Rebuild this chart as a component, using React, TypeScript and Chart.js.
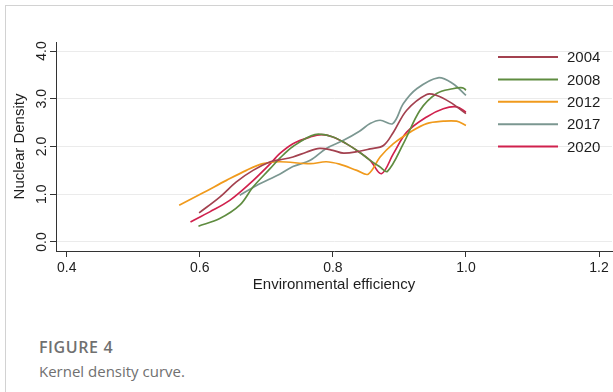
import React, { useEffect, useRef } from "react";
import { Chart, registerables } from "chart.js";

Chart.register(...registerables);

// ---- data ----
const seriesLabels = ["2004", "2008", "2012", "2017", "2020"];
const seriesColors = ["#a3414f", "#5f8c40", "#f09a1c", "#7b9791", "#d0214d"];

const x2004 = [0.599, 0.63, 0.655, 0.68, 0.706, 0.72, 0.74, 0.76, 0.78, 0.8, 0.816, 0.84, 0.856, 0.876, 0.891, 0.911, 0.941, 0.956, 0.976, 1.0];
const y2004 = [0.61, 0.94, 1.26, 1.5, 1.68, 1.72, 1.78, 1.88, 1.96, 1.92, 1.86, 1.9, 1.95, 2.02, 2.3, 2.76, 3.09, 3.07, 2.93, 2.69];

const x2008 = [0.598, 0.63, 0.66, 0.68, 0.706, 0.72, 0.74, 0.773, 0.8, 0.82, 0.84, 0.856, 0.87, 0.882, 0.906, 0.931, 0.956, 0.98, 0.995, 1.0];
const y2008 = [0.33, 0.49, 0.77, 1.15, 1.54, 1.75, 2.0, 2.25, 2.2, 2.06, 1.88, 1.71, 1.58, 1.48, 2.06, 2.76, 3.11, 3.21, 3.23, 3.18];

const x2012 = [0.569, 0.605, 0.64, 0.67, 0.695, 0.72, 0.766, 0.79, 0.81, 0.836, 0.853, 0.871, 0.891, 0.916, 0.941, 0.966, 0.986, 1.0];
const y2012 = [0.77, 1.03, 1.29, 1.5, 1.64, 1.68, 1.64, 1.68, 1.63, 1.5, 1.42, 1.78, 2.06, 2.3, 2.48, 2.53, 2.53, 2.44];

const x2017 = [0.66, 0.686, 0.72, 0.74, 0.766, 0.79, 0.816, 0.84, 0.856, 0.871, 0.89, 0.906, 0.926, 0.958, 0.98, 1.0];
const y2017 = [0.98, 1.19, 1.42, 1.58, 1.71, 1.96, 2.13, 2.32, 2.48, 2.55, 2.48, 2.9, 3.21, 3.44, 3.32, 3.07];

const x2020 = [0.586, 0.615, 0.645, 0.675, 0.706, 0.72, 0.74, 0.766, 0.783, 0.8, 0.82, 0.84, 0.856, 0.873, 0.891, 0.911, 0.941, 0.966, 0.986, 1.0];
const y2020 = [0.42, 0.63, 0.87, 1.22, 1.64, 1.85, 2.06, 2.2, 2.25, 2.2, 2.06, 1.88, 1.71, 1.43, 1.85, 2.3, 2.62, 2.79, 2.83, 2.72];

const xTickLabels = ["0.4", "0.6", "0.8", "1.0", "1.2"];
const yTickLabels = ["0.0", "1.0", "2.0", "3.0", "4.0"];

const xTitle = "Environmental efficiency";
const yTitle = "Nuclear Density";
const figureLabel = "FIGURE 4";
const figureCaption = "Kernel density curve.";

const seriesX = [x2004, x2008, x2012, x2017, x2020];
const seriesY = [y2004, y2008, y2012, y2017, y2020];

const AXIS_FONT = "'Liberation Sans', Arial, sans-serif";

const yTickPlugin = {
  id: "yTickLabels",
  afterDraw(chart: any) {
    const { ctx } = chart;
    const scale = chart.scales.y;
    ctx.save();
    ctx.font = `14px ${AXIS_FONT}`;
    ctx.fillStyle = "#1e1e1e";
    ctx.textAlign = "center";
    ctx.textBaseline = "alphabetic";
    scale.ticks.forEach((t: any, i: number) => {
      const py = scale.getPixelForValue(t.value);
      ctx.save();
      ctx.translate(46, py);
      ctx.rotate(-Math.PI / 2);
      ctx.fillText(yTickLabels[i] ?? "", 0, 0);
      ctx.restore();
    });
    ctx.restore();
  },
};

const legendPlugin = {
  id: "insideLegend",
  afterDraw(chart: any) {
    const { ctx } = chart;
    ctx.save();
    ctx.font = `15px ${AXIS_FONT}`;
    ctx.textAlign = "left";
    ctx.textBaseline = "middle";
    chart.data.datasets.forEach((ds: any, i: number) => {
      const y = 57 + i * 22.4;
      ctx.strokeStyle = ds.borderColor;
      ctx.lineWidth = 2;
      ctx.beginPath();
      ctx.moveTo(498, y);
      ctx.lineTo(558, y);
      ctx.stroke();
      ctx.fillStyle = "#1e1e1e";
      ctx.fillText(ds.label, 567, y + 1);
    });
    ctx.restore();
  },
};

export default function App() {
  const canvasRef = useRef<HTMLCanvasElement | null>(null);

  useEffect(() => {
    if (!canvasRef.current) return;
    const datasets = seriesLabels.map((label, i) => ({
      label,
      data: seriesX[i].map((x, j) => ({ x, y: seriesY[i][j] })),
      borderColor: seriesColors[i],
      backgroundColor: seriesColors[i],
      borderWidth: 1.7,
      pointRadius: 0,
      tension: 0.35,
      fill: false,
      showLine: true,
    }));

    const chart = new Chart(canvasRef.current, {
      type: "scatter",
      data: { datasets },
      options: {
        animation: false,
        responsive: false,
        devicePixelRatio: 1,
        layout: { padding: { left: 0, right: 1, top: 42, bottom: 0 } },
        plugins: {
          legend: { display: false },
          tooltip: { enabled: false },
        },
        scales: {
          x: {
            type: "linear",
            min: 0.3839,
            max: 1.2195,
            afterFit: (s: any) => {
              s.height = 49;
            },
            grid: {
              drawOnChartArea: false,
              drawTicks: true,
              tickLength: 6,
              tickColor: "#333",
            },
            border: { color: "#333", width: 1 },
            ticks: {
              stepSize: 0.2,
              includeBounds: false,
              autoSkip: false,
              maxRotation: 0,
              padding: 3,
              color: "#1e1e1e",
              font: { size: 14, family: AXIS_FONT },
              callback: (_v: any, i: number) => xTickLabels[i] ?? "",
            },
            title: {
              display: true,
              text: xTitle,
              color: "#1e1e1e",
              font: { size: 15, family: AXIS_FONT },
              padding: { top: 0, bottom: 6 },
            },
          },
          y: {
            type: "linear",
            min: -0.19,
            max: 4.19,
            afterFit: (s: any) => {
              s.width = 56;
            },
            grid: {
              color: "#ebebeb",
              lineWidth: 1,
              drawTicks: true,
              tickLength: 6,
              tickColor: "#333",
            },
            border: { color: "#333", width: 1 },
            ticks: {
              stepSize: 1,
              includeBounds: false,
              display: false,
            },
            title: {
              display: true,
              text: yTitle,
              color: "#1e1e1e",
              font: { size: 15, family: AXIS_FONT },
              padding: { top: 10.5, bottom: 0 },
            },
          },
        },
      },
      plugins: [yTickPlugin, legendPlugin],
    } as any);

    return () => chart.destroy();
  }, []);

  return (
    <div
      style={{
        position: "fixed",
        left: 0,
        top: 0,
        width: 613,
        height: 392,
        overflow: "hidden",
        background: "#fff",
      }}
    >
      <div
        style={{
          position: "absolute",
          left: 5,
          top: 5,
          width: 800,
          height: 600,
          border: "1px solid #d2d2d2",
        }}
      />
      <canvas
        ref={canvasRef}
        width={613}
        height={300}
        style={{ position: "absolute", left: 0, top: 0, width: 613, height: 300 }}
      />
      <div
        style={{
          position: "absolute",
          left: 39,
          top: 337,
          fontFamily: "'Open Sans', sans-serif",
          fontWeight: 600,
          fontSize: 16,
          lineHeight: "20px",
          letterSpacing: 0.6,
          color: "#707070",
          whiteSpace: "nowrap",
        }}
      >
        {figureLabel}
      </div>
      <div
        style={{
          position: "absolute",
          left: 39,
          top: 361,
          fontFamily: "'Open Sans', sans-serif",
          fontWeight: 400,
          fontSize: 15,
          lineHeight: "20px",
          color: "#707070",
          whiteSpace: "nowrap",
        }}
      >
        {figureCaption}
      </div>
    </div>
  );
}
